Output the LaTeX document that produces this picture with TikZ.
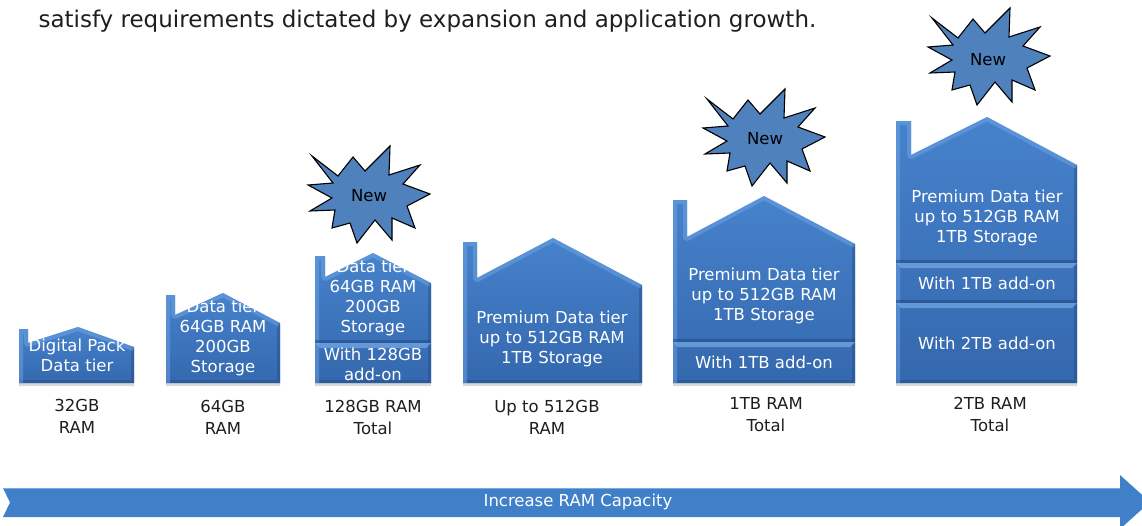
\documentclass[tikz,border=0pt]{standalone}
\usepackage{fontspec}
\setmainfont{DejaVu Sans}
\usepackage{xcolor}
\usepackage{tikz}
\usetikzlibrary{shadows}
\definecolor{azulcasaclaro}{RGB}{70,130,204}
\definecolor{azulcasaescuro}{RGB}{52,104,174}
\definecolor{azulbrilho}{RGB}{118,170,232}
\definecolor{azulsombra}{RGB}{36,76,134}
\definecolor{azulestrela}{RGB}{79,129,189}
\definecolor{azulseta}{RGB}{64,128,201}
\definecolor{cinzatexto}{RGB}{30,30,30}
\tikzset{
  casa/.style={top color=azulcasaclaro,bottom color=azulcasaescuro,
    drop shadow={shadow xshift=0pt,shadow yshift=-3pt,opacity=.3}},
  brilho/.style={draw=azulbrilho,line width=8pt,opacity=.45,line join=round},
  sombra/.style={draw=azulsombra,line width=6pt,opacity=.45},
  estrela/.style={draw=black,fill=azulestrela,line width=1.1pt},
  texto/.style={text=white,align=center,font=\fontsize{16.5}{20}\selectfont},
  rotulo/.style={text=cinzatexto,align=center,font=\fontsize{16.5}{22}\selectfont},
  novo/.style={text=black,font=\fontsize{16.5}{20}\selectfont},
  titulo/.style={text=cinzatexto,font=\fontsize{23}{27}\selectfont},
  seta/.style={fill=azulseta}
}
% house: left, right, chimney top, chimney width, peak x, peak y, roof left y, eave y
\newcommand{\casa}[8]{%
  \path[casa] (#1,383) -- (#1,#3) -- ({#1+#4},#3) -- ({#1+#4},#7) -- (#5,#6) -- (#2,#8) -- (#2,383) -- cycle;
  \begin{scope}
    \clip (#1,383) -- (#1,#3) -- ({#1+#4},#3) -- ({#1+#4},#7) -- (#5,#6) -- (#2,#8) -- (#2,383) -- cycle;
    \draw[sombra] (#2,#8) -- (#2,383) -- (#1,383);
    \draw[brilho] (#1,383) -- (#1,#3) -- ({#1+#4},#3) -- ({#1+#4},#7) -- (#5,#6) -- (#2,#8);
  \end{scope}}
% add-on band: left, right, top
\newcommand{\camada}[3]{%
  \fill[azulsombra,opacity=.6] (#1,{#3-3}) rectangle (#2,#3);
  \fill[azulbrilho,opacity=.7] (#1,#3) -- (#2,#3) -- ({#2-5},{#3+5}) -- ({#1+5},{#3+5}) -- cycle;}
% burst around a centre
\newcommand{\estrela}[2]{%
  \draw[estrela,shift={(#1,#2)}] (-58,-42) -- (-32,-22) -- (-17,-41) -- (-5,-27) -- (20,-52)
    -- (19,-23) -- (50,-33) -- (33,-14) -- (60,-4) -- (37,8) -- (45,30) -- (22,20)
    -- (22,42) -- (5,22) -- (-13,45) -- (-20,25) -- (-38,30) -- (-35,12) -- (-60,13)
    -- (-38,0) -- (-62,-13) -- (-37,-15) -- cycle;}

\begin{document}
\begin{tikzpicture}[x=1pt,y=-1pt]
\useasboundingbox (0,0) rectangle (1142,525);
\node[titulo,anchor=base west] (frase) at (35,27)
  {satisfy requirements dictated by expansion and application growth.};

% houses
\casa{19}{134}{329}{9}{78}{327}{343}{347}
\casa{166}{280}{295}{9}{223}{293}{315}{323}
\casa{315}{431}{256}{10}{373}{253}{277}{283}
\camada{315}{431}{343}
\casa{463}{642}{242}{14}{553}{238}{278}{285}
\casa{673}{855}{200}{14}{764}{196}{237}{244}
\camada{673}{855}{342}
\casa{896}{1077}{121}{15}{987}{117}{155}{165}
\camada{896}{1077}{263}
\camada{896}{1077}{303}

% texts in the houses
\node[texto] (t1) at (77,355) {Digital Pack\\Data tier};
\node[texto] (t2) at (223,338) {Data tier\\64GB RAM\\200GB\\Storage};
\node[texto] (t3) at (373,298) {Data tier\\64GB RAM\\200GB\\Storage};
\node[texto] (a3) at (373,364) {With 128GB\\add-on};
\node[texto] (t4) at (552,339) {Premium Data tier\\up to 512GB RAM\\1TB Storage};
\node[texto] (t5) at (764,296) {Premium Data tier\\up to 512GB RAM\\1TB Storage};
\node[texto] (a5) at (764,362) {With 1TB add-on};
\node[texto] (t6) at (987,218) {Premium Data tier\\up to 512GB RAM\\1TB Storage};
\node[texto] (a6) at (987,283) {With 1TB add-on};
\node[texto] (b6) at (987,343) {With 2TB add-on};

% labels
\node[rotulo] (r1) at (77,416) {32GB\\RAM};
\node[rotulo] (r2) at (223,417) {64GB\\RAM};
\node[rotulo] (r3) at (373,417) {128GB RAM\\Total};
\node[rotulo] (r4) at (547,417) {Up to 512GB\\RAM};
\node[rotulo] (r5) at (766,415) {1TB RAM\\Total};
\node[rotulo] (r6) at (990,414) {2TB RAM\\Total};

% bursts
\estrela{370}{198}
\node[novo] (n1) at (369,196) {New};
\estrela{765}{141}
\node[novo] (n2) at (765,139) {New};
\estrela{990}{60}
\node[novo] (n3) at (988,60) {New};

% arrow
\fill[seta] (3,488) -- (1120,488) -- (1120,475) -- (1150,502) -- (1120,529)
  -- (1120,517) -- (3,517) -- (10,502.5) -- cycle;
\draw[azulbrilho] (3,488.5) -- (1120,488.5);
\node[texto] (capacidade) at (578,502) {Increase RAM Capacity};
\end{tikzpicture}
\end{document}
